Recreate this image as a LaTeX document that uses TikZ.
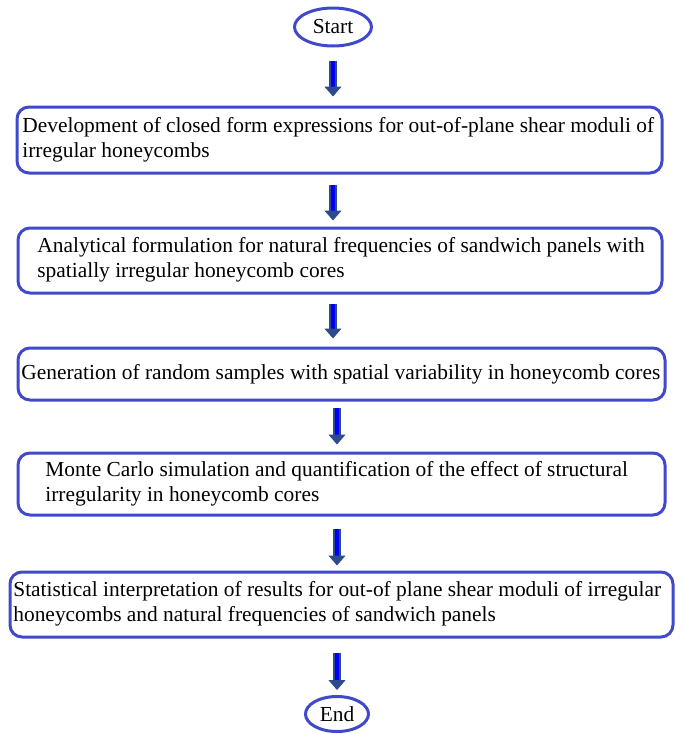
\documentclass[tikz,border=0pt]{standalone}
\usepackage{fontspec}
\setmainfont{Liberation Serif}
\newfontfamily\tnr{Liberation Serif}
\usetikzlibrary{arrows.meta,shapes.geometric}

\definecolor{boxblue}{RGB}{64,72,204}
\definecolor{arrowedge}{RGB}{45,75,140}
\definecolor{arrowfill}{RGB}{0,0,250}

\begin{document}
\begin{tikzpicture}[x=0.5pt,y=-0.5pt,
	term/.style={draw=boxblue, line width=1.5pt, ellipse, inner sep=0pt, font=\tnr\fontsize{10.7}{12}\selectfont},
	stage/.style={draw=boxblue, line width=1.5pt, rounded corners=6pt, inner sep=0pt},
	txt/.style={anchor=west, align=left, inner sep=0pt, font=\tnr\fontsize{10.7}{12.5}\selectfont},
	flow/.style={draw=arrowedge, double=arrowfill, double distance=2.4pt, line width=0.6pt, -{Triangle[width=8.5pt,length=5pt]}}]

		\useasboundingbox (0,0) rectangle (685,734);

		% start / end
		\node [term, minimum width=38.5pt, minimum height=19pt] (start) at (333,27) {Start};
		\node [term, minimum width=31.5pt, minimum height=17.5pt] (end) at (337,714) {End};

		% the five stages
		\node [stage, minimum width=322.5pt, minimum height=33pt] (b1) at (339.5,140) {};
		\node [stage, minimum width=322pt, minimum height=32.5pt] (b2) at (340,260.5) {};
		\node [stage, minimum width=323.5pt, minimum height=26pt] (b3) at (341.5,374) {};
		\node [stage, minimum width=323.5pt, minimum height=31pt] (b4) at (341.5,484) {};
		\node [stage, minimum width=331.5pt, minimum height=32.5pt] (b5) at (341.5,604.5) {};

		\node [txt] (t1) at (22,140) {Development of closed form expressions for out-of-plane shear moduli of\\irregular honeycombs};
		\node [txt] (t2) at (37,260) {Analytical formulation for natural frequencies of sandwich panels with\\spatially irregular honeycomb cores};
		\node [txt] (t3) at (21,374) {Generation of random samples with spatial variability in honeycomb cores};
		\node [txt] (t4) at (45,484) {Monte Carlo simulation and quantification of the effect of structural\\irregularity in honeycomb cores};
		\node [txt] (t5) at (13,604) {Statistical interpretation of results for out-of plane shear moduli of irregular\\honeycombs and natural frequencies of sandwich panels};

		% arrows
		\draw [flow, shorten <=6.5pt, shorten >=4.5pt] (start) -- (start |- b1.north);
		\draw [flow, shorten <=5pt, shorten >=3pt] (b1.south -| start) -- (b2.north -| start);
		\draw [flow, shorten <=4.5pt, shorten >=4pt] (b2.south -| start) -- (b3.north -| start);
		\draw [flow, shorten <=3pt, shorten >=3.5pt] (b3.south -| end) -- (b4.north -| end);
		\draw [flow, shorten <=6pt, shorten >=2.5pt] (b4.south -| end) -- (b5.north -| end);
		\draw [flow, shorten <=7pt, shorten >=2.5pt] (b5.south -| end) -- (end);

\end{tikzpicture}
\end{document}
